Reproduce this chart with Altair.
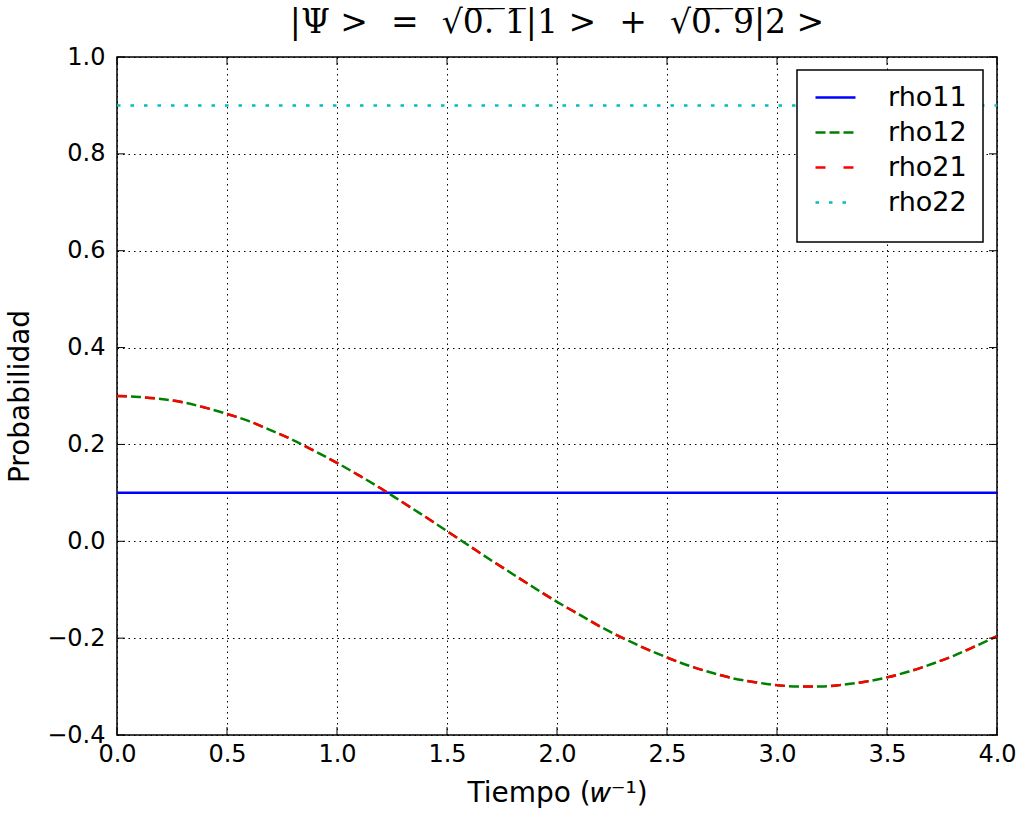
import altair as alt
import pandas as pd

# Time samples (units of 1/w) and the density-matrix elements
t_vals = [0.0, 0.1, 0.2, 0.3, 0.4, 0.5, 0.6, 0.7, 0.8, 0.9, 1.0,
          1.1, 1.2, 1.3, 1.4, 1.5, 1.6, 1.7, 1.8, 1.9, 2.0,
          2.1, 2.2, 2.3, 2.4, 2.5, 2.6, 2.7, 2.8, 2.9, 3.0,
          3.1, 3.2, 3.3, 3.4, 3.5, 3.6, 3.7, 3.8, 3.9, 4.0]
rho12_vals = [0.300, 0.298, 0.294, 0.287, 0.276, 0.263, 0.248, 0.229, 0.209, 0.186, 0.162,
              0.136, 0.109, 0.080, 0.051, 0.021, -0.009, -0.039, -0.068, -0.097, -0.125,
              -0.151, -0.177, -0.200, -0.221, -0.240, -0.257, -0.271, -0.283, -0.291, -0.297,
              -0.300, -0.300, -0.296, -0.290, -0.281, -0.269, -0.254, -0.237, -0.217, -0.196]
rho21_vals = [0.300, 0.298, 0.294, 0.287, 0.276, 0.263, 0.248, 0.229, 0.209, 0.186, 0.162,
              0.136, 0.109, 0.080, 0.051, 0.021, -0.009, -0.039, -0.068, -0.097, -0.125,
              -0.151, -0.177, -0.200, -0.221, -0.240, -0.257, -0.271, -0.283, -0.291, -0.297,
              -0.300, -0.300, -0.296, -0.290, -0.281, -0.269, -0.254, -0.237, -0.217, -0.196]
t_const = [0.0, 4.0]
rho11_vals = [0.1, 0.1]
rho22_vals = [0.9, 0.9]

series = ["rho11", "rho12", "rho21", "rho22"]
colors = ["#0000ff", "#008000", "#ff0000", "#00bfbf"]
dashes = [[1, 0], [10, 4], [10, 18], [3.5, 10]]

x_ticks = [0.0, 0.5, 1.0, 1.5, 2.0, 2.5, 3.0, 3.5, 4.0]
y_ticks = [-0.4, -0.2, 0.0, 0.2, 0.4, 0.6, 0.8, 1.0]

W, H = 880, 678

rows = []
for name, ts, vs in [("rho11", t_const, rho11_vals), ("rho12", t_vals, rho12_vals),
                     ("rho21", t_vals, rho21_vals), ("rho22", t_const, rho22_vals)]:
    for t, v in zip(ts, vs):
        rows.append({"t": t, "p": v, "serie": name})
df = pd.DataFrame(rows)

x_scale = alt.Scale(domain=[0, 4], nice=False, zero=False)
y_scale = alt.Scale(domain=[-0.4, 1.0], nice=False, zero=False)
x_axis = alt.Axis(values=x_ticks, format=".1f", title="Tiempo (𝑤⁻¹)", labelFlush=False)
y_axis = alt.Axis(values=y_ticks, format=".1f", title="Probabilidad", labelFlush=False)

lines = alt.Chart(df).mark_line(strokeWidth=2.5, interpolate="monotone", strokeCap="butt").encode(
    x=alt.X("t:Q", scale=x_scale, axis=x_axis),
    y=alt.Y("p:Q", scale=y_scale, axis=y_axis),
    color=alt.Color("serie:N", scale=alt.Scale(domain=series, range=colors),
                    legend=alt.Legend(title=None)),
    strokeDash=alt.StrokeDash("serie:N", scale=alt.Scale(domain=series, range=dashes),
                              legend=alt.Legend(title=None)),
)

# white legend frame
frame = alt.Chart(pd.DataFrame({"k": [0]})).mark_rect(
    fill="white", stroke="black", strokeWidth=1.5
).encode(
    x=alt.value(680), x2=alt.value(866), y=alt.value(13), y2=alt.value(185)
)

# inward tick marks on all four sides
xt = pd.DataFrame({"t": x_ticks})
yt = pd.DataFrame({"p": y_ticks})
tick_style = dict(color="black", strokeWidth=1)
ticks_bottom = alt.Chart(xt).mark_rule(**tick_style).encode(
    x=alt.X("t:Q", scale=x_scale, axis=x_axis), y=alt.value(H), y2=alt.value(H - 8))
ticks_top = alt.Chart(xt).mark_rule(**tick_style).encode(
    x=alt.X("t:Q", scale=x_scale, axis=x_axis), y=alt.value(0), y2=alt.value(8))
ticks_left = alt.Chart(yt).mark_rule(**tick_style).encode(
    y=alt.Y("p:Q", scale=y_scale, axis=y_axis), x=alt.value(0), x2=alt.value(8))
ticks_right = alt.Chart(yt).mark_rule(**tick_style).encode(
    y=alt.Y("p:Q", scale=y_scale, axis=y_axis), x=alt.value(W - 8), x2=alt.value(W))

SP = "\u2002\u2009"  # wide math spacing around relation / binary operators
title_text = f"|Ψ >{SP}={SP}√0̅.̅ ̅1̅|1 >{SP}+{SP}√0̅.̅ ̅9̅|2 >"

chart = alt.layer(lines, frame, ticks_bottom, ticks_top, ticks_left, ticks_right).properties(
    width=W, height=H,
    autosize=alt.AutoSizeParams(type="none"),
    padding={"left": 117, "top": 57, "right": 21, "bottom": 79},
    title=alt.Title(title_text, font="DejaVu Serif",
                    fontSize=33, fontWeight="normal", color="black", offset=5),
).configure_view(
    stroke="black", strokeWidth=1.5
).configure_axis(
    grid=True, gridColor="black", gridDash=[1.5, 4], gridWidth=1, gridOpacity=1,
    domain=False, ticks=False,
    labelFont="DejaVu Sans", labelFontSize=24, labelColor="black",
    titleFont="DejaVu Sans", titleFontSize=28, titleFontWeight="normal", titleColor="black",
).configure_axisX(
    labelPadding=7, titlePadding=13
).configure_axisY(
    labelPadding=12, titlePadding=12
).configure_legend(
    orient="none", legendX=680, legendY=13,
    symbolType="stroke", symbolSize=1600, symbolStrokeWidth=2.5, symbolOffset=11,
    labelFont="DejaVu Sans", labelFontSize=27, labelColor="black", labelOffset=31,
    rowPadding=0, padding=6,
)

chart.save("out.html", embed_options={"renderer": "svg", "actions": False})
